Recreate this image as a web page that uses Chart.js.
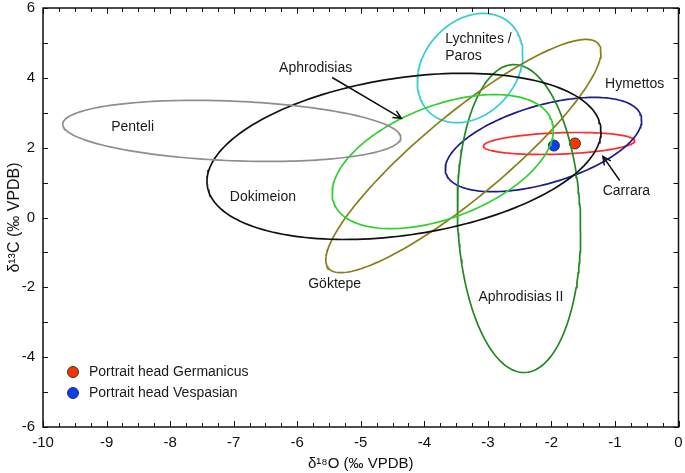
<!DOCTYPE html>
<html>
<head>
<meta charset="utf-8">
<script src="https://cdn.jsdelivr.net/npm/chart.js@4.4.1/dist/chart.umd.min.js"></script>
<style>
  html,body{margin:0;padding:0;background:#fff}
  #wrap{width:685px;height:473px}
</style>
</head>
<body>
<div id="wrap"><canvas id="chart"></canvas></div>
<script>
// marble sources: confidence ellipses (centre, half width, half height, tilt phase)
const sources    = ['Penteli','Dokimeion','Aphrodisias','Göktepe','Lychnites / Paros','Aphrodisias II','Hymettos','Carrara'];
const centerX    = [-7.03, -4.32, -3.71, -3.385, -3.28, -2.51, -2.125, -1.88];
const centerY    = [ 2.48,  1.75,  1.60,  1.76,   4.28, -0.03,  2.09,   2.12];
const halfWidth  = [ 2.66,  3.10,  1.74,  2.165,  0.83,  0.97,  1.545,  1.19];
const halfHeight = [ 0.875, 2.38,  1.92,  3.34,   1.565, 4.41,  1.35,   0.315];
const tiltDeg    = [102.5,  72.5,  62,    27,     75.5,  94.6,  59,     76];

// measured samples
const sampleNames = ['Portrait head Germanicus','Portrait head Vespasian'];
const sampleX = [-1.63, -1.96];
const sampleY = [ 2.12,  2.06];

const xTicks = [-10,-9,-8,-7,-6,-5,-4,-3,-2,-1,0];
const yTicks = [-6,-4,-2,0,2,4,6];

// styles kept apart from the values
const ellipseColors = ['#8e8e8e','#111111','#2fd12f','#8a7e1c','#35cdd0','#1f8a1f','#1c1c8a','#ff2b2b'];
const sampleColors = ['#ff3300','#0a3cff'];
const FONT = "'Liberation Sans', Arial, sans-serif";

function outline(i){
  const pts = [];
  const phi = tiltDeg[i]*Math.PI/180;
  for(let k=0;k<=180;k++){
    const t = 2*Math.PI*k/180;
    pts.push({x:centerX[i]+halfWidth[i]*Math.cos(t), y:centerY[i]+halfHeight[i]*Math.cos(t-phi)});
  }
  return pts;
}

const datasets = sources.map((name,i)=>({
  label:name, type:'scatter', data:outline(i), showLine:true, fill:false,
  borderColor:ellipseColors[i], borderWidth:1.7, pointRadius:0, tension:0
}));
sampleNames.forEach((name,i)=>{
  datasets.push({
    label:name, type:'scatter', data:[{x:sampleX[i], y:sampleY[i]}],
    pointRadius:5.5, pointBackgroundColor:sampleColors[i], pointBorderColor:'#333', pointBorderWidth:1
  });
});

// text labels placed at data positions
const sourceLabels = [
  {text:'Penteli', x:-8.59, y:2.58},
  {text:'Dokimeion', x:-6.54, y:0.57},
  {text:'Aphrodisias', x:-5.71, y:4.27},
  {text:'Lychnites /', x:-3.67, y:5.10, align:'left'},
  {text:'Paros', x:-3.67, y:4.61, align:'left'},
  {text:'Hymettos', x:-0.69, y:3.81},
  {text:'Carrara', x:-0.82, y:0.75},
  {text:'Göktepe', x:-5.41, y:-1.92},
  {text:'Aphrodisias II', x:-2.48, y:-2.29}
];
const arrows = [
  {x1:-5.45, y1:4.01, x2:-4.36, y2:2.84},
  {x1:-0.925, y1:1.06, x2:-1.19, y2:1.75}
];

const decor = {
  id:'decor',
  afterDraw(chart){
    const {ctx, chartArea:a, scales:{x, y}} = chart;
    ctx.save();
    // frame
    ctx.strokeStyle = '#111'; ctx.lineWidth = 1.5;
    ctx.strokeRect(a.left, a.top, a.right-a.left, a.bottom-a.top);
    // inside ticks
    ctx.lineWidth = 1;
    ctx.beginPath();
    for(let v=-10; v<=0.001; v+=0.25){
      const px = Math.round(x.getPixelForValue(v))+0.5;
      const len = Math.abs(v-Math.round(v))<1e-6 ? 6 : 4;
      ctx.moveTo(px, a.bottom); ctx.lineTo(px, a.bottom-len);
      ctx.moveTo(px, a.top); ctx.lineTo(px, a.top+len);
    }
    for(let v=-6; v<=6; v+=1){
      const py = Math.round(y.getPixelForValue(v))+0.5;
      ctx.moveTo(a.left, py); ctx.lineTo(a.left+5, py);
      ctx.moveTo(a.right, py); ctx.lineTo(a.right-5, py);
    }
    ctx.stroke();

    // labels
    ctx.fillStyle = '#1a1a1a';
    ctx.font = '14px ' + FONT;
    ctx.textBaseline = 'middle';
    sourceLabels.forEach(l=>{
      ctx.textAlign = l.align || 'center';
      ctx.fillText(l.text, x.getPixelForValue(l.x), y.getPixelForValue(l.y));
    });

    // arrows
    ctx.strokeStyle = '#111'; ctx.lineWidth = 1.5;
    arrows.forEach(r=>{
      const x1 = x.getPixelForValue(r.x1), y1 = y.getPixelForValue(r.y1);
      const x2 = x.getPixelForValue(r.x2), y2 = y.getPixelForValue(r.y2);
      const ang = Math.atan2(y2-y1, x2-x1);
      ctx.beginPath();
      ctx.moveTo(x1,y1); ctx.lineTo(x2,y2);
      ctx.moveTo(x2-9*Math.cos(ang-0.45), y2-9*Math.sin(ang-0.45));
      ctx.lineTo(x2,y2);
      ctx.lineTo(x2-9*Math.cos(ang+0.45), y2-9*Math.sin(ang+0.45));
      ctx.stroke();
    });

    // legend
    ctx.textAlign = 'left';
    sampleNames.forEach((name,i)=>{
      const ly = a.bottom-55+i*21;
      ctx.beginPath();
      ctx.arc(a.left+30, ly, 5.5, 0, 2*Math.PI);
      ctx.fillStyle = sampleColors[i]; ctx.fill();
      ctx.strokeStyle = '#333'; ctx.lineWidth = 1; ctx.stroke();
      ctx.fillStyle = '#1a1a1a';
      ctx.fillText(name, a.left+46, ly);
    });
    ctx.restore();
  }
};

function noOverflow(s){
  s.paddingLeft = 0; s.paddingRight = 0; s.paddingTop = 0; s.paddingBottom = 0;
}

new Chart(document.getElementById('chart'), {
  type:'scatter',
  data:{datasets},
  options:{
    responsive:true, maintainAspectRatio:false, animation:false,
    layout:{padding:{left:0, right:4, top:8, bottom:0}},
    plugins:{legend:{display:false}, tooltip:{enabled:false}},
    scales:{
      x:{
        type:'linear', min:-10, max:0,
        afterBuildTicks:s=>{ s.ticks = xTicks.map(v=>({value:v})); },
        afterFit:s=>{ s.height = 46; noOverflow(s); },
        grid:{display:false, drawTicks:false}, border:{display:false},
        ticks:{color:'#111', padding:7, font:{family:FONT, size:15}, maxRotation:0},
        title:{display:true, text:'δ¹⁸O (‰ VPDB)', color:'#111', font:{family:FONT, size:15}, padding:{top:0, bottom:0}}
      },
      y:{
        type:'linear', min:-6, max:6,
        afterBuildTicks:s=>{ s.ticks = yTicks.map(v=>({value:v})); },
        afterFit:s=>{ s.width = 43; noOverflow(s); },
        grid:{display:false, drawTicks:false}, border:{display:false},
        ticks:{color:'#111', padding:8, font:{family:FONT, size:15}},
        title:{display:true, text:'δ¹³C (‰ VPDB)', color:'#111', font:{family:FONT, size:16}, padding:{top:5, bottom:0}}
      }
    }
  },
  plugins:[decor]
});
</script>
</body>
</html>
